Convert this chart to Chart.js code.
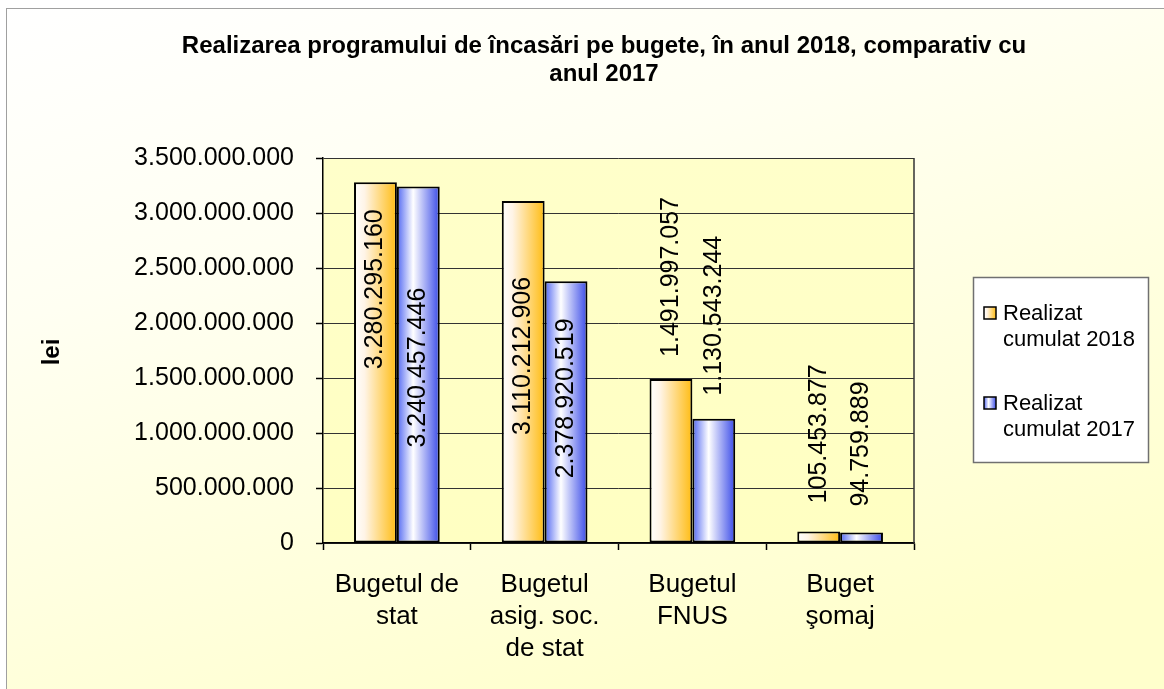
<!DOCTYPE html>
<html>
<head>
<meta charset="utf-8">
<script src="https://cdn.jsdelivr.net/npm/chart.js@4/dist/chart.umd.min.js"></script>
<style>
  html, body { margin: 0; padding: 0; background: #ffffff; }
  canvas { display: block; }
</style>
</head>
<body>
<canvas id="c" width="1164" height="689"></canvas>
<script>
// ---- data ----
const categories = [
  ['Bugetul de', 'stat'],
  ['Bugetul', 'asig. soc.', 'de stat'],
  ['Bugetul', 'FNUS'],
  ['Buget', 'şomaj']
];
const seriesNames = [['Realizat', 'cumulat 2018'], ['Realizat', 'cumulat 2017']];
const values2018 = [3280295160, 3110212906, 1491997057, 105453877];
const values2017 = [3240457446, 2378920519, 1130543244, 94759889];
const yMin = 0;
const yMax = 3500000000;
const yStep = 500000000;
const titleLines = ['Realizarea programului de încasări pe bugete, în anul 2018, comparativ cu', 'anul 2017'];
const yAxisTitle = 'lei';

// ---- styling / layout (not data) ----
const FONT = "'Liberation Sans', Arial, sans-serif";
const CAT_PCT = 0.58;
// distance (px) from bar top to the start (lower end) of each rotated value label
const labelOffsets = [[187, 234, -22, -28], [261, 197, -23, -26]];
const barStops = [
  [[0, '#ffffff'], [0.25, '#fff4e6'], [1, '#ffbc12']],
  [[0, '#5066f2'], [0.38, '#ffffff'], [1, '#3a4be8']]
];

function fmt(v) {
  return String(Math.round(v)).replace(/\B(?=(\d{3})+(?!\d))/g, '.');
}

function barFill(c) {
  const ds = c.datasetIndex;
  const stops = barStops[ds] || barStops[0];
  const chart = c.chart;
  const xs = chart.scales && chart.scales.x;
  if (c.dataIndex === undefined || !xs || !chart.chartArea) return stops[stops.length - 1][1];
  const n = chart.data.labels.length;
  const catW = (xs.right - xs.left) / n;
  const bw = catW * CAT_PCT / 2;
  const center = xs.getPixelForValue(c.dataIndex);
  const left = ds === 0 ? center - bw : center;
  const g = chart.ctx.createLinearGradient(left, 0, left + bw, 0);
  stops.forEach(s => g.addColorStop(s[0], s[1]));
  return g;
}

const decor = {
  id: 'decor',
  beforeDraw(chart) {
    const ctx = chart.ctx;
    const W = chart.width, H = chart.height;
    ctx.save();
    ctx.fillStyle = '#ffffff';
    ctx.fillRect(0, 0, W, H);
    const g = ctx.createLinearGradient(0, 8, 250, H + 150);
    g.addColorStop(0, '#ffffff');
    g.addColorStop(0.35, '#fffff2');
    g.addColorStop(1, '#ffffcc');
    ctx.fillStyle = g;
    ctx.fillRect(6, 8, W, H);
    ctx.strokeStyle = '#a0a0a0';
    ctx.lineWidth = 1;
    ctx.strokeRect(6.5, 8.5, W + 10, H + 10);
    const a = chart.chartArea;
    const pg = ctx.createLinearGradient(0, a.top, 0, a.bottom);
    pg.addColorStop(0, '#ffffca');
    pg.addColorStop(1, '#ffffc2');
    ctx.fillStyle = pg;
    ctx.fillRect(a.left, a.top, a.right - a.left, a.bottom - a.top);
    ctx.restore();
  },
  beforeDatasetsDraw(chart) {
    const ctx = chart.ctx, a = chart.chartArea;
    ctx.save();
    ctx.strokeStyle = '#333333';
    ctx.lineWidth = 1.5;
    ctx.beginPath();
    ctx.moveTo(a.right, a.top);
    ctx.lineTo(a.right, a.bottom);
    ctx.stroke();
    ctx.restore();
  },
  afterDatasetsDraw(chart) {
    const ctx = chart.ctx;
    ctx.save();
    ctx.fillStyle = '#000000';
    ctx.font = '25px ' + FONT;
    ctx.textAlign = 'left';
    ctx.textBaseline = 'middle';
    chart.data.datasets.forEach((ds, di) => {
      const meta = chart.getDatasetMeta(di);
      meta.data.forEach((el, i) => {
        ctx.save();
        ctx.translate(el.x, el.y + labelOffsets[di][i]);
        ctx.rotate(-Math.PI / 2);
        ctx.fillText(fmt(ds.data[i]), 0, 0);
        ctx.restore();
      });
    });
    ctx.restore();
  },
  afterDraw(chart) {
    const ctx = chart.ctx;
    ctx.save();
    // title
    ctx.fillStyle = '#000000';
    ctx.font = 'bold 24px ' + FONT;
    ctx.textAlign = 'center';
    ctx.textBaseline = 'alphabetic';
    titleLines.forEach((t, i) => ctx.fillText(t, 604, 53 + i * 28));
    // y axis title
    ctx.save();
    ctx.translate(52, 352);
    ctx.rotate(-Math.PI / 2);
    ctx.textBaseline = 'middle';
    ctx.font = 'bold 24px ' + FONT;
    ctx.fillText(yAxisTitle, 0, 0);
    ctx.restore();
    // legend
    const lx = 973, ly = 277, lw = 175, lh = 185;
    ctx.fillStyle = '#ffffff';
    ctx.fillRect(lx, ly, lw, lh);
    ctx.strokeStyle = '#707070';
    ctx.lineWidth = 1.5;
    ctx.strokeRect(lx + 0.5, ly + 0.5, lw, lh);
    ctx.font = '22px ' + FONT;
    ctx.textAlign = 'left';
    ctx.textBaseline = 'alphabetic';
    seriesNames.forEach((lines, i) => {
      const baseY = 320 + i * 90;
      const mx = 984, my = baseY - 13, ms = 12;
      const mg = ctx.createLinearGradient(mx, 0, mx + ms, 0);
      barStops[i].forEach(s => mg.addColorStop(s[0], s[1]));
      ctx.fillStyle = mg;
      ctx.fillRect(mx, my, ms, ms);
      ctx.strokeStyle = '#000000';
      ctx.lineWidth = 1.5;
      ctx.strokeRect(mx, my, ms, ms);
      ctx.fillStyle = '#000000';
      lines.forEach((t, k) => ctx.fillText(t, 1003, baseY + k * 26));
    });
    ctx.restore();
  }
};

new Chart(document.getElementById('c'), {
  type: 'bar',
  data: {
    labels: categories,
    datasets: [
      { label: seriesNames[0].join(' '), data: values2018, backgroundColor: barFill,
        borderColor: '#000000', borderWidth: 2, borderSkipped: false },
      { label: seriesNames[1].join(' '), data: values2017, backgroundColor: barFill,
        borderColor: '#000000', borderWidth: 2, borderSkipped: false }
    ]
  },
  options: {
    responsive: false,
    animation: false,
    devicePixelRatio: 1,
    layout: { padding: { top: 158, right: 250, bottom: 0, left: 0 } },
    datasets: { bar: { categoryPercentage: CAT_PCT, barPercentage: 1.0 } },
    plugins: { legend: { display: false }, title: { display: false }, tooltip: { enabled: false } },
    scales: {
      x: {
        offset: true,
        grid: { offset: true, drawOnChartArea: false, drawTicks: true, tickLength: 7, tickColor: '#000000', tickWidth: 1.5 },
        border: { color: '#000000', width: 1.5 },
        ticks: { color: '#000000', font: { family: FONT, size: 26, lineHeight: 1.23 }, padding: 19,
                 maxRotation: 0, minRotation: 0, autoSkip: false },
        afterFit(s) { s.height = 146; }
      },
      y: {
        min: yMin, max: yMax,
        grid: { color: '#333333', lineWidth: 1, drawTicks: true, tickLength: 7, tickColor: '#000000', tickWidth: 1.5 },
        border: { color: '#000000', width: 1.5 },
        ticks: { stepSize: yStep, color: '#000000', font: { family: FONT, size: 25 }, padding: 22,
                 callback: v => fmt(v) },
        afterFit(s) { s.width = 323; }
      }
    }
  },
  plugins: [decor]
});
</script>
</body>
</html>
